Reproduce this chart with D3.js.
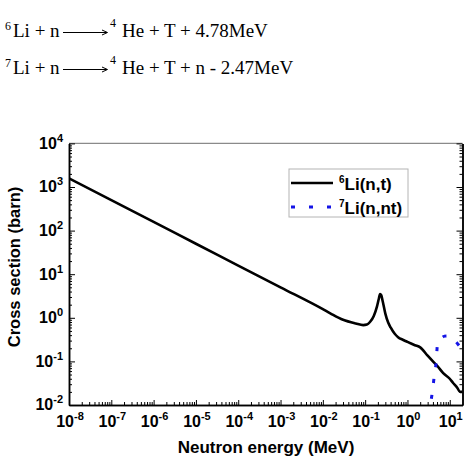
<!DOCTYPE html>
<html>
<head>
<meta charset="utf-8">
<script src="https://cdn.jsdelivr.net/npm/d3@7"></script>
<style>
    body { margin: 0; background: #fff; }
    svg { display: block; }
    .eq { font-family: "Liberation Serif", "Times New Roman", serif; fill: #000; }
    .lab { font-family: "Liberation Sans", Arial, sans-serif; font-weight: bold; fill: #000; }
</style>
</head>
<body>
<div id="chart"></div>
<script>
//Datos
const li6Energy = [1e-8, 1e-7, 1e-6, 1e-5, 1e-4, 1e-3, 1e-2, 0.015, 0.03, 0.06, 0.09, 0.11, 0.13, 0.16, 0.19, 0.21, 0.225, 0.24, 0.26, 0.3, 0.35, 0.4, 0.5, 0.6, 0.8, 1, 1.5, 2, 3, 4, 5, 7, 10, 12, 15, 17.5, 20];
const li6Sigma = [1580, 500, 158, 50, 15.8, 5.0, 1.58, 1.27, 0.9, 0.74, 0.68, 0.7, 0.8, 1.1, 1.8, 2.7, 3.5, 3.3, 2.4, 1.25, 0.78, 0.6, 0.43, 0.36, 0.31, 0.28, 0.235, 0.21, 0.135, 0.1, 0.08, 0.054, 0.04, 0.032, 0.025, 0.02, 0.02];
const li7Energy = [3.3, 3.6, 3.9, 4.3, 4.8, 5.1, 5.6, 6.5, 7.5, 8.5, 10, 12, 14, 17.5, 20];
const li7Sigma = [0.006, 0.012, 0.021, 0.046, 0.104, 0.24, 0.3, 0.35, 0.38, 0.385, 0.36, 0.32, 0.28, 0.217, 0.19];
const xTickExp = [-8, -7, -6, -5, -4, -3, -2, -1, 0, 1];
const yTickExp = [-2, -1, 0, 1, 2, 3, 4];
const legendIso = ['6', '7'];
const legendNames = ['Li(n,t)', 'Li(n,nt)'];
const eqIso = ['6', '7'];
const eqProducts = ['He + T + 4.78MeV', 'He + T + n - 2.47MeV'];

const COLOR_LI6 = '#000000',
COLOR_LI7 = '#1414e6';

let margin = {top: 143.4, right: 10.5, bottom: 63, left: 69},
    width = 473 - margin.left - margin.right,
    height = 468 - margin.top - margin.bottom;

let root = d3.select('#chart')
    .append('svg')
        .attr('width', 473)
        .attr('height', 468);

//Ecuaciones
eqIso.forEach(function(iso, i) {
    let base = 36.5 + i * 37;
    root.append('text').attr('class', 'eq').attr('x', 5).attr('y', base - 7).attr('font-size', 12).text(iso);
    root.append('text').attr('class', 'eq').attr('x', 13).attr('y', base).attr('font-size', 19).text('Li + n');
    root.append('line').attr('x1', 63).attr('x2', 107).attr('y1', base - 4).attr('y2', base - 4)
        .attr('stroke', '#000').attr('stroke-width', 1);
    root.append('path').attr('d', `M102,${base - 6.5} L107.5,${base - 4} L102,${base - 1.5}`)
        .attr('fill', 'none').attr('stroke', '#000').attr('stroke-width', 1);
    root.append('text').attr('class', 'eq').attr('x', 110).attr('y', base - 10).attr('font-size', 12).text('4');
    root.append('text').attr('class', 'eq').attr('x', 122).attr('y', base).attr('font-size', 19).text(eqProducts[i]);
});

let svg = root.append('g')
    .attr('transform', 'translate(' + margin.left + ',' + margin.top + ')');

let x = d3.scaleLog().domain([1e-8, 20]).range([0, width]);
let y = d3.scaleLog().domain([1e-2, 1e4]).range([height, 0]);

function minorTicks(exps, maxVal) {
    let out = [];
    exps.forEach(function(e) {
        for (let m = 2; m <= 9; m++) {
            let v = m * Math.pow(10, e);
            if (v < maxVal) out.push(v);
        }
    });
    return out;
}

let xMajor = xTickExp.map(function(e) { return Math.pow(10, e); });
let yMajor = yTickExp.map(function(e) { return Math.pow(10, e); });
let xMinor = minorTicks(xTickExp, 20);
let yMinor = minorTicks(yTickExp.slice(0, -1), 1e4);

//Borde superior
svg.append('line').attr('x1', 0).attr('x2', width).attr('y1', 0).attr('y2', 0)
    .attr('stroke', '#8a8a8a').attr('stroke-width', 1.2);

//Ejes
function styleAxis(g) {
    g.selectAll('.domain').attr('stroke', '#000').attr('stroke-width', 1.5);
    g.selectAll('.tick line').attr('stroke', '#000').attr('stroke-width', 1);
    g.selectAll('.tick text').remove();
}

svg.append('g').attr('transform', 'translate(0,' + height + ')')
    .call(d3.axisBottom(x).tickValues(xMinor).tickSizeInner(-3).tickSizeOuter(0)).call(styleAxis);
svg.append('g').attr('transform', 'translate(0,' + height + ')')
    .call(d3.axisBottom(x).tickValues(xMajor).tickSizeInner(-5).tickSizeOuter(0)).call(styleAxis);

svg.append('g')
    .call(d3.axisLeft(y).tickValues(yMinor).tickSizeInner(-3).tickSizeOuter(0)).call(styleAxis);
svg.append('g')
    .call(d3.axisLeft(y).tickValues(yMajor).tickSizeInner(-6).tickSizeOuter(0)).call(styleAxis);

svg.append('g').attr('transform', 'translate(' + width + ',0)')
    .call(d3.axisRight(y).tickValues(yMinor).tickSizeInner(-3).tickSizeOuter(0)).call(styleAxis);
svg.append('g').attr('transform', 'translate(' + width + ',0)')
    .call(d3.axisRight(y).tickValues(yMajor).tickSizeInner(-6).tickSizeOuter(0)).call(styleAxis);

//Etiquetas de ticks
xTickExp.forEach(function(e) {
    let t = svg.append('text').attr('class', 'lab')
        .attr('x', x(Math.pow(10, e)) + 1).attr('y', height + 22)
        .attr('text-anchor', 'middle').attr('font-size', 16);
    t.append('tspan').text('10');
    t.append('tspan').attr('font-size', 11).attr('dy', -7).text(e);
});

yTickExp.forEach(function(e) {
    let t = svg.append('text').attr('class', 'lab')
        .attr('x', -6).attr('y', y(Math.pow(10, e)) + 5.5)
        .attr('text-anchor', 'end').attr('font-size', 16);
    t.append('tspan').text('10');
    t.append('tspan').attr('font-size', 11).attr('dy', -7).text(e);
});

//Títulos de ejes
root.append('text').attr('class', 'lab')
    .attr('x', 266).attr('y', 452.5).attr('text-anchor', 'middle').attr('font-size', 17)
    .text('Neutron energy (MeV)');
root.append('text').attr('class', 'lab')
    .attr('transform', 'translate(19.5,267) rotate(-90)').attr('text-anchor', 'middle').attr('font-size', 16.5)
    .text('Cross section (barn)');

//Curvas
svg.append('clipPath').attr('id', 'clip')
    .append('rect').attr('width', width).attr('height', height);

let line = d3.line()
    .x(function(d) { return x(d[0]); })
    .y(function(d) { return y(d[1]); })
    .curve(d3.curveMonotoneX);

svg.append('path')
    .datum(li6Energy.map(function(e, i) { return [e, li6Sigma[i]]; }))
    .attr('clip-path', 'url(#clip)')
    .attr('fill', 'none').attr('stroke', COLOR_LI6).attr('stroke-width', 2.6)
    .attr('d', line);

svg.append('path')
    .datum(li7Energy.map(function(e, i) { return [e, li7Sigma[i]]; }))
    .attr('clip-path', 'url(#clip)')
    .attr('fill', 'none').attr('stroke', COLOR_LI7).attr('stroke-width', 3)
    .attr('stroke-dasharray', '4,12')
    .attr('d', line);

//Leyenda
let legend = root.append('g').attr('transform', 'translate(289,169)');
legend.append('rect').attr('width', 119).attr('height', 48)
    .attr('fill', '#fff').attr('stroke', '#b4b4b4').attr('stroke-width', 1);
legendNames.forEach(function(name, i) {
    let ly = 14 + i * 24;
    legend.append('line').attr('x1', 2).attr('x2', 44).attr('y1', ly).attr('y2', ly)
        .attr('stroke', i == 0 ? COLOR_LI6 : COLOR_LI7)
        .attr('stroke-width', i == 0 ? 2.6 : 3)
        .attr('stroke-dasharray', i == 0 ? null : '4,14');
    let t = legend.append('text').attr('class', 'lab').attr('x', 50).attr('y', ly + 7).attr('font-size', 17);
    t.append('tspan').attr('font-size', 10).attr('dy', -7).text(legendIso[i]);
    t.append('tspan').attr('dy', 7).text(name);
});
</script>
</body>
</html>
